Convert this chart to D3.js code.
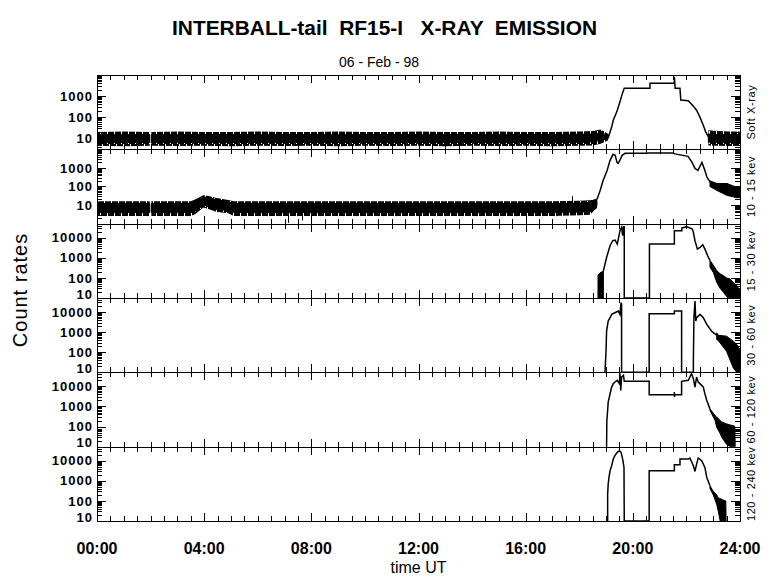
<!DOCTYPE html>
<html><head><meta charset="utf-8">
<script src="https://cdn.jsdelivr.net/npm/d3@7/dist/d3.min.js"></script>
<style>body{margin:0;background:#fff}svg{display:block}</style>
</head><body>
<svg id="c" width="780" height="579"></svg>
<script>
// ---------------- DATA (hours UT, count rates) ----------------
const panelLabels = ["Soft X-ray", "10 - 15 kev", "15 - 30 kev", "30 - 60 kev", "60 - 120 kev", "120 - 240 kev"];
const xTickLabels = ["00:00", "04:00", "08:00", "12:00", "16:00", "20:00", "24:00"];
const xTickHours = [0, 4, 8, 12, 16, 20, 24];
const yLabelsLow = [10, 100, 1000];
const yLabelsHigh = [10, 100, 1000, 10000];

// Panel 1: Soft X-ray  (outer noise envelope + dense core)
const p1NoiseT  = [0, 1, 1.97, 1.98, 2.03, 3, 4, 5, 6, 7, 8, 9, 10, 11, 12, 13, 14, 15, 16, 17, 18, 18.5, 18.8, 19.09, 19.10, 22.82, 23.2, 23.6, 24];
const p1NoiseHi = [20, 21, 20, null, 20, 21, 20, 20, 21, 20, 20, 21, 20, 20, 21, 20, 20, 21, 20, 20, 21, 22, 26, 16, null, 24, 22, 21, 21];
const p1NoiseLo = [4.4, 4.2, 4.4, null, 4.4, 4.3, 4.4, 4.2, 4.4, 4.3, 4.4, 4.2, 4.4, 4.3, 4.4, 4.2, 4.4, 4.3, 4.4, 4.2, 4.4, 4.6, 5.5, 8, null, 4.6, 4.4, 4.3, 4.4];
const p1CoreHi  = [15, 15, 15, null, 15, 15, 15, 15, 15, 15, 15, 15, 15, 15, 15, 15, 15, 15, 15, 15, 15.5, 16, 18, 14, null, 16, 15, 15, 15];
const p1CoreLo  = [6.3, 6.3, 6.3, null, 6.3, 6.3, 6.3, 6.3, 6.3, 6.3, 6.3, 6.3, 6.3, 6.3, 6.3, 6.3, 6.3, 6.3, 6.3, 6.3, 6.4, 6.8, 8, 10, null, 6.6, 6.4, 6.3, 6.3];
const p1CurveT = [19.09, 19.21, 19.27, 19.40, 19.52, 19.61, 19.68, 20.64, 20.64, 21.55, 21.55, 21.58, 21.76, 21.79, 22.07, 22.26, 22.38, 22.50, 22.63, 22.72, 22.82];
const p1CurveV = [11.5, 34.5, 72, 179, 535, 1345, 2330, 2330, 4030, 4030, 8300, 2330, 2330, 645, 597, 334, 215, 103, 42, 20, 11.5];

// Panel 2: 10 - 15 keV
const p2NoiseT  = [0, 1, 1.97, 1.98, 2.03, 3, 3.5, 3.66, 3.97, 4.16, 4.47, 4.9, 5.1, 6, 7, 8, 9, 10, 11, 12, 13, 14, 15, 16, 17, 18, 18.4, 18.66];
const p2NoiseHi = [16, 16, 16, null, 16, 16, 16, 20, 34, 31, 24, 19, 16, 16, 16, 16, 16, 16, 16, 16, 16, 16, 16, 16, 16, 17, 18, 22];
const p2NoiseLo = [2.6, 2.6, 2.6, null, 2.6, 2.6, 2.6, 3.2, 7.5, 6.2, 4.2, 3.6, 2.6, 2.6, 2.6, 2.6, 2.6, 2.6, 2.6, 2.6, 2.6, 2.6, 2.6, 2.6, 2.6, 2.8, 3, 7];
const p2CoreHi  = [12, 12, 12, null, 12, 12, 12, 15, 27, 25, 19, 15, 12, 12, 12, 12, 12, 12, 12, 12, 12, 12, 12, 12, 12, 13, 14, 18];
const p2CoreLo  = [4, 4, 4, null, 4, 4, 4, 4.6, 10, 8.6, 6, 5, 4, 4, 4, 4, 4, 4, 4, 4, 4, 4, 4, 4, 4, 4.2, 4.6, 9];
const p2SpikeT = [17.73, 7.13, 7.65];
const p2SpikeV = [30, 1.1, 1.5];
const p2CurveT = [18.66, 18.78, 18.89, 19.04, 19.15, 19.26, 19.34, 19.41, 19.45, 19.52, 19.60, 19.71, 20.56, 20.57, 21.50, 21.57, 22.06, 22.21, 22.32, 22.43, 22.58, 22.69, 22.77, 22.88];
const p2CurveV = [20, 61, 211, 733, 2540, 5370, 4740, 2000, 1750, 2600, 4740, 6080, 6080, 6300, 6300, 5700, 4180, 1980, 940, 733, 1980, 733, 306, 180];
const p2TailT  = [22.88, 23.14, 23.52, 23.89, 24];
const p2TailHi = [200, 145, 145, 89, 80];
const p2TailLo = [100, 61, 33, 25, 25];

// Panel 3: 15 - 30 keV
const p3PreT  = [18.70, 18.78, 18.85, 18.90];
const p3PreHi = [140, 180, 200, 224];
const p3PreLo = [0.1, 0.1, 0.1, 0.1];
const p3CurveT = [18.90, 19.02, 19.15, 19.25, 19.34, 19.42, 19.52, 19.58, 19.62, 19.65, 19.68, 19.68, 20.62, 20.62, 21.55, 21.55, 21.83, 21.83, 22.01, 22.22, 22.26, 22.32, 22.41, 22.51, 22.61, 22.69, 22.82, 22.88];
const p3CurveV = [224, 1040, 3980, 7080, 7600, 4820, 22400, 32900, 12600, 35500, 35500, 0.1, 0.1, 4820, 4820, 22400, 22400, 30400, 35500, 27100, 18500, 7080, 2710, 3290, 4470, 2710, 1040, 740];
const p3TailT  = [22.88, 23.01, 23.13, 23.26, 23.38, 23.50, 23.63, 23.75, 23.88, 24];
const p3TailHi = [740, 420, 233, 160, 130, 100, 89, 60, 42, 23];
const p3TailLo = [340, 180, 61, 30, 19.5, 12, 0.1, 0.1, 0.1, 0.1];

// Panel 4: 30 - 60 keV
const p4CurveT = [18.96, 19.00, 19.02, 19.08, 19.15, 19.21, 19.33, 19.46, 19.52, 19.56, 19.58, 19.58, 20.61, 20.61, 21.55, 21.55, 21.82, 21.82, 22.26, 22.26, 22.28, 22.32, 22.35, 22.38, 22.51, 22.63, 22.76, 22.94, 23.13];
const p4CurveV = [0.1, 112, 1120, 3550, 5210, 7650, 9260, 11200, 7650, 29300, 24400, 0.1, 0.1, 8260, 8260, 11200, 11200, 0.1, 0.1, 35, 5200, 35500, 3550, 5210, 7650, 5210, 2420, 1120, 700];
const p4TailT  = [23.13, 23.19, 23.50, 23.75, 23.88, 24];
const p4TailHi = [926, 700, 631, 355, 245, 135];
const p4TailLo = [430, 380, 110, 16.5, 0.1, 0.1];

// Panel 5: 60 - 120 keV
const p5CurveT = [19.02, 19.03, 19.06, 19.08, 19.15, 19.21, 19.27, 19.33, 19.42, 19.50, 19.52, 19.55, 19.58, 19.65, 19.68, 20.61, 20.61, 21.55, 21.55, 21.555, 21.56, 21.82, 21.82, 22.07, 22.13, 22.19, 22.26, 22.32, 22.38, 22.44, 22.57, 22.63, 22.69, 22.76, 22.88];
const p5CurveV = [0.1, 200, 631, 1650, 4300, 9260, 13600, 16500, 20000, 13600, 43000, 6300, 29300, 35500, 17800, 17800, 3830, 3830, 5210, 2930, 3830, 3830, 17800, 20000, 29300, 43000, 24200, 9260, 29300, 16500, 11200, 9260, 4300, 2000, 760];
const p5TailT  = [22.88, 23.07, 23.13, 23.26, 23.32, 23.50, 23.63, 23.75, 23.81, 23.82];
const p5TailHi = [760, 355, 300, 200, 170, 136, 120, 112, 100, 0.1];
const p5TailLo = [631, 200, 93, 45, 29, 13, 0.1, 0.1, 0.1, 0.1];

// Panel 6: 120 - 240 keV
const p6CurveT = [19.06, 19.06, 19.08, 19.11, 19.15, 19.21, 19.27, 19.33, 19.42, 19.50, 19.56, 19.62, 19.67, 19.68, 20.61, 20.61, 21.55, 21.55, 21.76, 21.76, 22.07, 22.13, 22.26, 22.32, 22.38, 22.44, 22.57, 22.69, 22.76, 22.88];
const p6CurveV = [0.1, 215, 681, 1470, 3160, 5620, 12100, 17800, 26100, 31600, 26100, 12100, 4640, 0.1, 0.1, 3160, 3160, 6310, 6310, 12100, 12100, 13600, 5620, 2930, 6800, 13600, 10000, 4640, 1470, 562];
const p6TailT  = [22.88, 23.00, 23.13, 23.19, 23.26, 23.38, 23.47, 23.48];
const p6TailHi = [562, 300, 200, 140, 130, 110, 100, 0.1];
const p6TailLo = [420, 200, 68, 30, 0.1, 0.1, 0.1, 0.1];

// ---------------- LAYOUT ----------------
const left = 97, right = 740, top0 = 75, bottom0 = 521;
const nP = 6, ph = (bottom0 - top0) / nP;
const domains = [[3, 1e4], [1, 1e4], [10, 5e4], [10, 5e4], [10, 5e4], [10, 5e4]];
const zip = (T, V) => T.map((t, i) => ({t, v: V[i]}));
const zip3 = (T, H, L) => T.map((t, i) => ({t, hi: H[i], lo: L[i]}));

const panels = [
  {curves: [zip(p1CurveT, p1CurveV)], fringe: [zip3(p1NoiseT, p1NoiseHi, p1NoiseLo)], bands: [zip3(p1NoiseT, p1CoreHi, p1CoreLo)], labels: yLabelsLow},
  {curves: [zip(p2CurveT, p2CurveV)], fringe: [zip3(p2NoiseT, p2NoiseHi, p2NoiseLo)], bands: [zip3(p2NoiseT, p2CoreHi, p2CoreLo), zip3(p2TailT, p2TailHi, p2TailLo)], spikes: zip(p2SpikeT, p2SpikeV), labels: yLabelsLow},
  {curves: [zip(p3CurveT, p3CurveV)], fringe: [], bands: [zip3(p3PreT, p3PreHi, p3PreLo), zip3(p3TailT, p3TailHi, p3TailLo)], labels: yLabelsHigh},
  {curves: [zip(p4CurveT, p4CurveV)], fringe: [], bands: [zip3(p4TailT, p4TailHi, p4TailLo)], labels: yLabelsHigh},
  {curves: [zip(p5CurveT, p5CurveV)], fringe: [], bands: [zip3(p5TailT, p5TailHi, p5TailLo)], labels: yLabelsHigh},
  {curves: [zip(p6CurveT, p6CurveV)], fringe: [], bands: [zip3(p6TailT, p6TailHi, p6TailLo)], labels: yLabelsHigh}
];

const svg = d3.select('#c');
const x = d3.scaleLinear().domain([0, 24]).range([left, right]);
const xMinor = d3.range(1, 48).map(k => k / 2).filter(h => h % 4 !== 0);
const xMajor = d3.range(0, 25, 4);

function logTicks(dom) {
  const out = [];
  for (let e = Math.floor(Math.log10(dom[0])); e <= Math.ceil(Math.log10(dom[1])); e++) {
    for (let m = 1; m <= 9; m++) {
      const v = m * Math.pow(10, e);
      if (v >= dom[0] * 0.999 && v <= dom[1] * 1.001) out.push({v, major: m === 1});
    }
  }
  return out;
}

const defs = svg.append('defs');
// irregular vertical-stripe texture for the noisy fringe of the background counts
const pat = defs.append('pattern').attr('id', 'noise').attr('patternUnits', 'userSpaceOnUse')
  .attr('width', 7).attr('height', 9);
[[0, 0, 9], [1, 0, 9], [2, 0, 5], [3, 0, 9], [4, 2, 7], [5, 0, 9], [6, 0, 3], [6, 5, 4]].forEach(([cx, cy, h]) => {
  pat.append('rect').attr('x', cx).attr('y', cy).attr('width', 1).attr('height', h).attr('fill', '#000');
});

const FONT = "'Liberation Sans', Arial, sans-serif";
const snap = v => Math.round(v) + 0.5;

panels.forEach((p, i) => {
  const y0 = top0 + i * ph, y1 = y0 + ph;
  const y = d3.scaleLog().domain(domains[i]).range([y1, y0]).clamp(true);
  const g = svg.append('g');
  defs.append('clipPath').attr('id', 'clip' + i).append('rect')
    .attr('x', left).attr('y', y0).attr('width', right - left).attr('height', ph);
  const dg = g.append('g').attr('clip-path', `url(#clip${i})`);

  const area = d3.area().defined(d => d.hi != null)
    .x(d => x(d.t)).y0(d => y(d.lo)).y1(d => y(d.hi));
  p.fringe.forEach(b => {
    dg.append('path').datum(b).attr('d', area).attr('fill', 'url(#noise)');
  });
  p.bands.forEach(b => {
    dg.append('path').datum(b).attr('d', area)
      .attr('fill', '#000').attr('stroke', '#000').attr('stroke-width', 1);
  });
  if (p.spikes) {
    dg.selectAll('line.sp').data(p.spikes).join('line')
      .attr('x1', d => snap(x(d.t))).attr('x2', d => snap(x(d.t)))
      .attr('y1', y(8)).attr('y2', d => y(d.v))
      .attr('stroke', '#000').attr('stroke-width', 1);
  }
  const line = d3.line().defined(d => d.v != null).x(d => x(d.t)).y(d => y(d.v));
  p.curves.forEach(c => {
    dg.append('path').datum(c).attr('d', line)
      .attr('fill', 'none').attr('stroke', '#000').attr('stroke-width', 1.5);
  });

  const lt = logTicks(domains[i]);
  const tg = g.append('g').attr('stroke', '#000').attr('stroke-width', 1).attr('shape-rendering', 'crispEdges');
  tg.selectAll('line.yl').data(lt).join('line')
    .attr('x1', left).attr('x2', d => left + (d.major ? 9 : 5))
    .attr('y1', d => snap(y(d.v))).attr('y2', d => snap(y(d.v)));
  tg.selectAll('line.yr').data(lt).join('line')
    .attr('x1', right).attr('x2', d => right - (d.major ? 9 : 5))
    .attr('y1', d => snap(y(d.v))).attr('y2', d => snap(y(d.v)));
  const xt = xMinor.map(h => ({h, major: false})).concat(xMajor.map(h => ({h, major: true})));
  tg.selectAll('line.xt').data(xt).join('line')
    .attr('x1', d => snap(x(d.h))).attr('x2', d => snap(x(d.h)))
    .attr('y1', y0).attr('y2', d => y0 + (d.major ? 8 : 5));
  tg.selectAll('line.xb').data(xt).join('line')
    .attr('x1', d => snap(x(d.h))).attr('x2', d => snap(x(d.h)))
    .attr('y1', y1).attr('y2', d => y1 - (d.major ? 8 : 5));

  g.append('rect').attr('x', left + 0.5).attr('y', Math.round(y0) + 0.5).attr('width', right - left).attr('height', Math.round(y1) - Math.round(y0))
    .attr('fill', 'none').attr('stroke', '#000').attr('stroke-width', 1).attr('shape-rendering', 'crispEdges');

  g.selectAll('text.yl').data(p.labels).join('text')
    .attr('x', 93).attr('y', d => y(d) + (d === domains[i][0] ? -4 : 0))
    .attr('dy', '0.36em').attr('text-anchor', 'end')
    .attr('font-family', FONT).attr('font-weight', 'bold').attr('font-size', 13)
    .attr('letter-spacing', 1).text(d => d);

  g.append('text').attr('transform', `translate(755,${(y0 + y1) / 2}) rotate(-90)`)
    .attr('text-anchor', 'middle').attr('font-family', FONT).attr('font-size', 11)
    .attr('letter-spacing', 0.6).style('white-space', 'pre').text(panelLabels[i]);
});

svg.selectAll('text.xl').data(xTickLabels).join('text')
  .attr('x', (d, i) => x(xTickHours[i])).attr('y', 554)
  .attr('text-anchor', 'middle').attr('font-family', FONT).attr('font-weight', 'bold')
  .attr('font-size', 16).text(d => d);

svg.append('text').attr('x', (left + right) / 2).attr('y', 573).attr('text-anchor', 'middle')
  .attr('font-family', FONT).attr('font-size', 16).text('time UT');

svg.append('text').attr('transform', 'translate(27,290) rotate(-90)').attr('text-anchor', 'middle')
  .attr('font-family', FONT).attr('font-size', 20).attr('letter-spacing', 1).text('Count rates');

svg.append('text').attr('x', 384.5).attr('y', 35).attr('text-anchor', 'middle')
  .attr('font-family', FONT).attr('font-weight', 'bold').attr('font-size', 21)
  .attr('textLength', 425).attr('lengthAdjust', 'spacingAndGlyphs')
  .style('white-space', 'pre').text('INTERBALL-tail  RF15-I   X-RAY  EMISSION');

svg.append('text').attr('x', 379).attr('y', 67).attr('text-anchor', 'middle')
  .attr('font-family', FONT).attr('font-size', 14).style('white-space', 'pre')
  .text('06 - Feb - 98');
</script>
</body></html>
